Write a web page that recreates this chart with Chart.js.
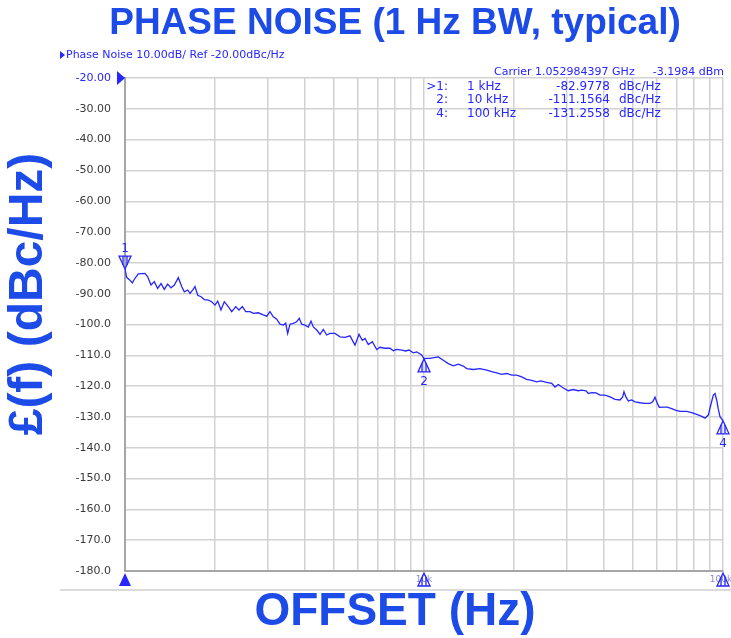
<!DOCTYPE html>
<html lang="en">
<head>
  <meta charset="UTF-8" />
  <title>Phase Noise</title>
  <script src="https://cdn.jsdelivr.net/npm/chart.js"></script>
  <style>
    body { margin: 0; background: #fff; }
    canvas { display: block; }
  </style>
</head>
<body>
  <canvas id="pnChart" width="731" height="638"></canvas>

  <script>
    const offsetKHz = [
      1.000, 1.013, 1.039, 1.058, 1.080, 1.108, 1.166, 1.191, 1.222, 1.253,
      1.286, 1.320, 1.353, 1.389, 1.425, 1.462, 1.508, 1.547, 1.579, 1.621,
      1.650, 1.685, 1.714, 1.751, 1.796, 1.842, 1.899, 1.950, 2.000, 2.042,
      2.094, 2.148, 2.215, 2.275, 2.346, 2.406, 2.468, 2.533, 2.619, 2.686,
      2.792, 2.901, 2.978, 3.054, 3.133, 3.217, 3.299, 3.383, 3.447, 3.500,
      3.563, 3.655, 3.752, 3.827, 3.899, 4.000, 4.102, 4.189, 4.264, 4.377,
      4.490, 4.605, 4.727, 4.848, 5.039, 5.237, 5.443, 5.656, 5.878, 6.063,
      6.218, 6.350, 6.513, 6.717, 6.948, 7.126, 7.406, 7.697, 7.895, 8.105,
      8.423, 8.686, 8.910, 9.211, 9.454, 9.824, 10.00, 10.21, 10.47, 11.16,
      11.60, 12.06, 12.53, 13.02, 13.53, 13.89, 14.62, 15.39, 16.21, 16.84,
      17.50, 18.19, 18.91, 19.65, 20.42, 21.22, 22.05, 22.92, 23.82, 24.57,
      25.73, 26.74, 27.42, 28.13, 29.24, 30.38, 31.57, 32.81, 33.69, 34.83,
      35.45, 36.39, 37.61, 38.79, 40.31, 41.89, 43.53, 45.24, 46.19, 46.65,
      47.38, 48.23, 49.51, 50.79, 52.78, 54.85, 57.01, 58.20, 59.24, 60.30,
      61.24, 63.14, 65.12, 67.36, 69.63, 71.81, 75.61, 78.58, 81.66, 84.88,
      87.06, 89.29, 90.97, 92.81, 94.02, 95.26, 96.45, 97.72, 100.0
    ];
    const phaseNoise = [
      -82.0, -84.7, -85.6, -86.5, -85.0, -83.6, -83.4, -84.5, -87.2, -86.1,
      -88.3, -86.7, -88.6, -86.9, -88.1, -87.2, -84.8, -87.7, -89.4, -88.8,
      -89.9, -88.8, -87.7, -90.5, -91.0, -91.9, -92.1, -92.6, -93.7, -92.4,
      -95.3, -92.6, -94.2, -95.8, -94.2, -95.3, -94.2, -95.8, -95.8, -96.4,
      -96.2, -96.9, -97.3, -95.8, -97.5, -98.3, -99.9, -100.2, -99.6, -102.9,
      -99.9, -99.6, -99.1, -98.0, -99.9, -100.2, -100.8, -98.9, -100.8, -101.8,
      -103.2, -101.6, -103.4, -102.9, -102.9, -104.0, -104.2, -103.7, -106.7, -103.2,
      -105.1, -104.5, -106.5, -105.6, -108.1, -107.4, -107.7, -107.7, -108.5, -108.1,
      -108.3, -108.6, -108.3, -109.2, -108.9, -109.9, -111.1, -111.0, -111.0, -110.5,
      -111.6, -112.7, -113.4, -112.9, -113.5, -114.3, -114.6, -114.3, -114.8, -115.3,
      -115.7, -116.2, -115.9, -116.4, -116.4, -117.0, -117.8, -118.1, -118.6, -118.3,
      -118.8, -119.1, -120.3, -119.5, -120.6, -121.5, -121.1, -121.5, -121.3, -121.5,
      -122.4, -122.1, -122.2, -122.9, -122.9, -123.5, -124.3, -124.5, -123.5, -121.8,
      -123.6, -124.8, -124.5, -125.1, -125.4, -125.6, -125.6, -125.1, -123.6, -125.6,
      -126.9, -126.8, -126.8, -127.3, -127.9, -128.2, -128.2, -128.6, -129.2, -129.8,
      -130.4, -129.4, -126.2, -122.9, -122.4, -124.5, -127.5, -129.9, -131.3
    ];

    // marker readout
    const markerIds = ['1', '2', '4'];
    const markerRows = ['>1:', '2:', '4:'];
    const markerHz = [1000, 10000, 100000];
    const markerOffsetText = ['1 kHz', '10 kHz', '100 kHz'];
    const markerDbc = [-82.9778, -111.1564, -131.2558];

    const gridHz = [];
    [1000, 10000].forEach(dec => {
      for (let k = 1; k <= 9; k++) gridHz.push(k * dec);
    });
    gridHz.push(100000);

    const BLUE = '#1d4be8';
    const TRACE = '#2626ff';

    const points = offsetKHz.map((f, i) => ({ x: f * 1000, y: phaseNoise[i] }));

    function triangle(ctx, x, yApex, dir, filled) {
      // dir: 1 = pointing up (body below apex), -1 = pointing down (body above apex)
      const h = 13, w = 6;
      ctx.beginPath();
      ctx.moveTo(x, yApex);
      ctx.lineTo(x - w, yApex + dir * h);
      ctx.lineTo(x + w, yApex + dir * h);
      ctx.closePath();
      if (filled) {
        ctx.fillStyle = TRACE;
        ctx.fill();
      } else {
        ctx.strokeStyle = TRACE;
        ctx.lineWidth = 1.3;
        ctx.stroke();
        ctx.beginPath();
        ctx.moveTo(x - 2, yApex + dir * 4);
        ctx.lineTo(x - 2, yApex + dir * h);
        ctx.moveTo(x + 2, yApex + dir * 4);
        ctx.lineTo(x + 2, yApex + dir * h);
        ctx.stroke();
      }
    }

    const annotations = {
      id: 'annotations',
      afterDraw(chart) {
        const ctx = chart.ctx;
        const xs = chart.scales.x, ys = chart.scales.y;
        const area = chart.chartArea;
        ctx.save();

        // big titles
        ctx.fillStyle = BLUE;
        ctx.textAlign = 'center';
        ctx.textBaseline = 'middle';
        ctx.font = 'bold 37px "Liberation Sans", Arial, sans-serif';
        ctx.fillText('PHASE NOISE (1 Hz BW, typical)', 395, 24);
        ctx.font = 'bold 46px "Liberation Sans", Arial, sans-serif';
        ctx.fillText('OFFSET (Hz)', 395, 612);
        ctx.save();
        ctx.translate(29, 294);
        ctx.rotate(-Math.PI / 2);
        ctx.font = 'bold 48px "Liberation Sans", Arial, sans-serif';
        ctx.fillText('£(f) (dBc/Hz)', 0, 0);
        ctx.restore();

        // instrument header
        ctx.fillStyle = TRACE;
        ctx.textAlign = 'left';
        ctx.font = '11px "DejaVu Sans", sans-serif';
        ctx.fillText('Phase Noise 10.00dB/ Ref -20.00dBc/Hz', 66, 55);
        ctx.beginPath();
        ctx.moveTo(60, 51); ctx.lineTo(65, 55); ctx.lineTo(60, 59); ctx.closePath();
        ctx.fill();

        // reference level pointer
        ctx.beginPath();
        ctx.moveTo(117, area.top - 7);
        ctx.lineTo(125, area.top);
        ctx.lineTo(117, area.top + 7);
        ctx.closePath();
        ctx.fill();

        // carrier and marker table
        ctx.font = '11px "DejaVu Sans", sans-serif';
        ctx.textAlign = 'right';
        ctx.fillText('-3.1984 dBm', 724, 72);
        ctx.textAlign = 'left';
        ctx.fillText('Carrier 1.052984397 GHz', 494, 72);
        ctx.font = '12px "DejaVu Sans", sans-serif';
        markerRows.forEach((r, i) => {
          const y = 86.5 + i * 13.5;
          ctx.textAlign = 'right';
          ctx.fillText(r, 448, y);
          ctx.textAlign = 'left';
          ctx.fillText(markerOffsetText[i], 467, y);
          ctx.textAlign = 'right';
          ctx.fillText(markerDbc[i].toFixed(4), 610, y);
          ctx.textAlign = 'left';
          ctx.fillText('dBc/Hz', 619, y);
        });

        // trace markers
        ctx.font = '12px "DejaVu Sans", sans-serif';
        ctx.textAlign = 'center';
        markerHz.forEach((f, i) => {
          const px = xs.getPixelForValue(f);
          const py = ys.getPixelForValue(markerDbc[i]);
          if (i === 0) {
            triangle(ctx, px, py - 3, -1, false);
            ctx.fillStyle = TRACE;
            ctx.fillText(markerIds[i], px, py - 23);
          } else {
            triangle(ctx, px, py, 1, false);
            ctx.fillStyle = TRACE;
            ctx.fillText(markerIds[i], px, py + 23);
          }
        });

        // stimulus markers under the axis
        const yb = area.bottom + 2;
        ctx.font = '9px "DejaVu Sans", sans-serif';
        ctx.fillStyle = '#8a8ad0';
        ctx.fillText('10k', xs.getPixelForValue(10000), yb + 7);
        ctx.fillText('100k', xs.getPixelForValue(100000) - 2, yb + 7);
        triangle(ctx, xs.getPixelForValue(1000), yb, 1, true);
        triangle(ctx, xs.getPixelForValue(10000), yb, 1, false);
        triangle(ctx, xs.getPixelForValue(100000), yb, 1, false);

        // lower frame line
        ctx.strokeStyle = '#cfcfcf';
        ctx.lineWidth = 1.5;
        ctx.beginPath();
        ctx.moveTo(60, 590);
        ctx.lineTo(731, 590);
        ctx.stroke();

        ctx.restore();
      }
    };

    new Chart(document.getElementById('pnChart').getContext('2d'), {
      type: 'line',
      data: {
        datasets: [{
          label: 'Phase Noise',
          data: points,
          borderColor: TRACE,
          borderWidth: 1.3,
          pointRadius: 0,
          tension: 0,
          fill: false
        }]
      },
      options: {
        responsive: false,
        animation: false,
        layout: { padding: { left: 0, right: 8, top: 78, bottom: 67 } },
        plugins: {
          legend: { display: false },
          tooltip: { enabled: false }
        },
        scales: {
          x: {
            type: 'logarithmic',
            min: 1000,
            max: 100000,
            afterBuildTicks: scale => {
              scale.ticks = gridHz.map(v => ({ value: v }));
            },
            afterFit: scale => { scale.height = 0; },
            ticks: { display: false },
            grid: { color: '#d2d2d2', lineWidth: 1.5, drawTicks: false },
            border: { color: '#a6a6a6', width: 2 }
          },
          y: {
            min: -180,
            max: -20,
            afterFit: scale => { scale.width = 125; },
            ticks: {
              stepSize: 10,
              padding: 14,
              color: ctx => (ctx.tick && ctx.tick.value === -20 ? TRACE : '#3a3a3a'),
              font: { family: '"DejaVu Sans", sans-serif', size: 11 },
              callback: v => (v > -100 ? v.toFixed(2) : v.toFixed(1))
            },
            grid: { color: '#d2d2d2', lineWidth: 1.5, drawTicks: false },
            border: { color: '#a6a6a6', width: 2 }
          }
        }
      },
      plugins: [annotations]
    });
  </script>
</body>
</html>
